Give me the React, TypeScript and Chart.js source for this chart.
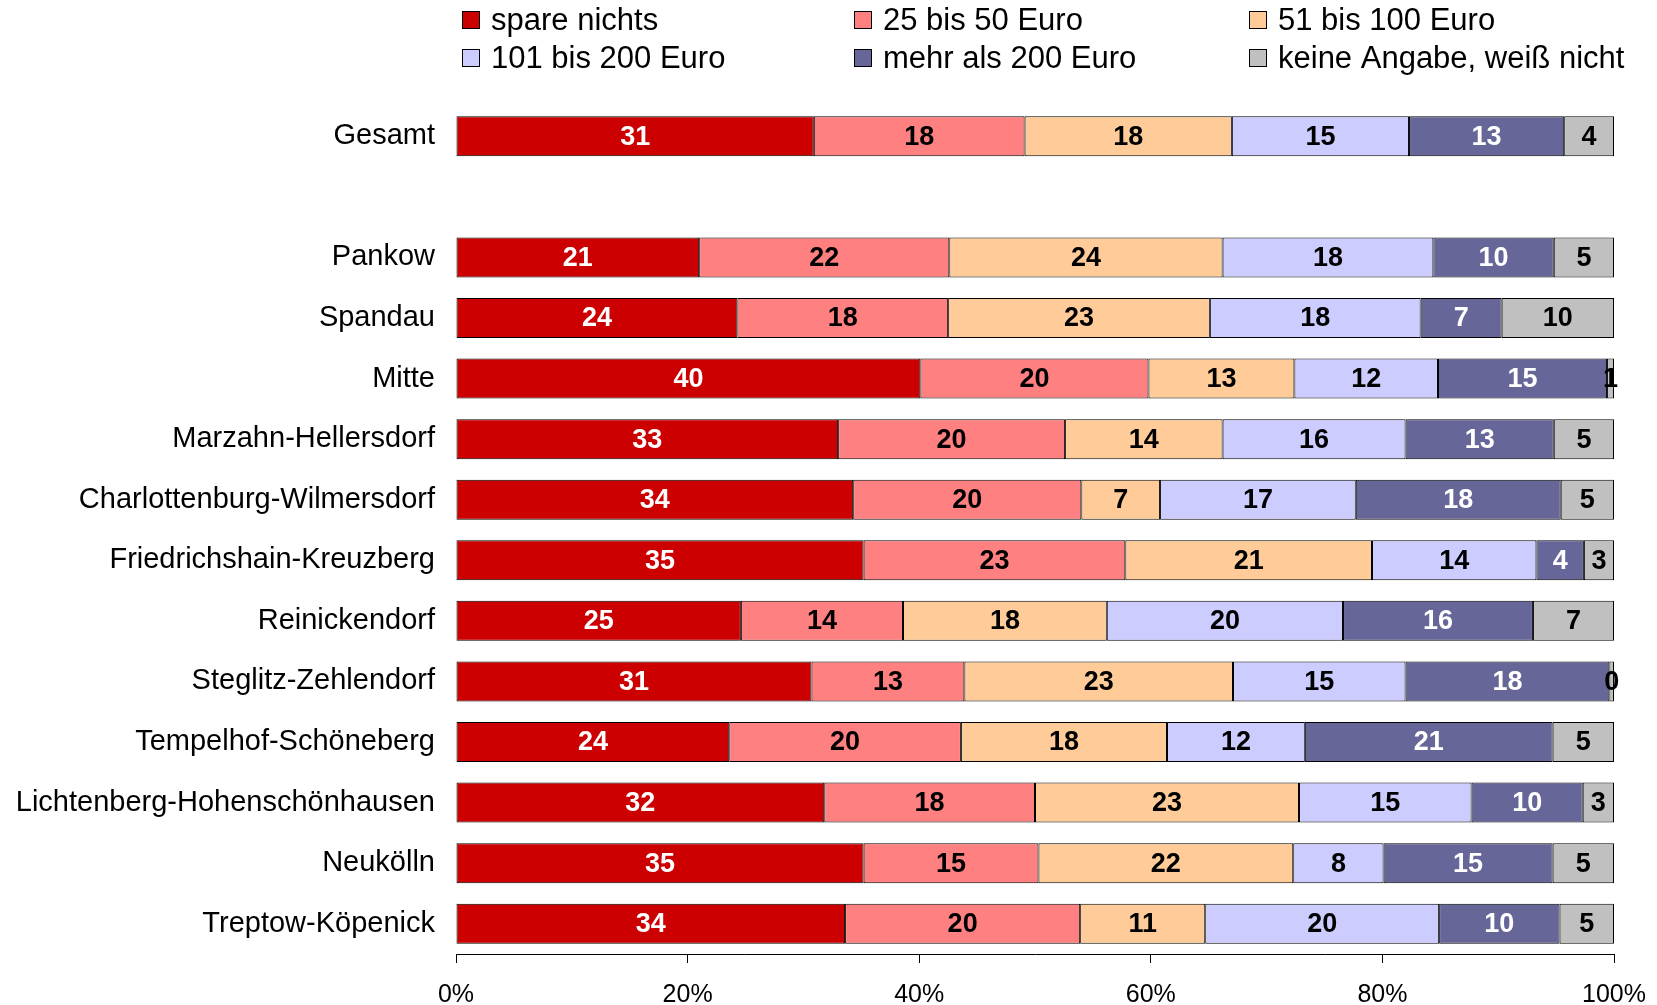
import React, { useEffect, useRef } from "react";
import { Chart, registerables } from "chart.js";

Chart.register(...registerables);

const categories = [
  "Gesamt",
  "",
  "Pankow",
  "Spandau",
  "Mitte",
  "Marzahn-Hellersdorf",
  "Charlottenburg-Wilmersdorf",
  "Friedrichshain-Kreuzberg",
  "Reinickendorf",
  "Steglitz-Zehlendorf",
  "Tempelhof-Schöneberg",
  "Lichtenberg-Hohenschönhausen",
  "Neukölln",
  "Treptow-Köpenick",
];

const seriesNames = [
  "spare nichts",
  "25 bis 50 Euro",
  "51 bis 100 Euro",
  "101 bis 200 Euro",
  "mehr als 200 Euro",
  "keine Angabe, weiß nicht",
];

const spareNichts = [30.9, null, 21.0, 24.3, 40.1, 33.0, 34.3, 35.2, 24.6, 30.7, 23.6, 31.8, 35.2, 33.6];
const bis50 = [18.2, null, 21.6, 18.2, 19.7, 19.6, 19.7, 22.6, 14.0, 13.2, 20.0, 18.2, 15.1, 20.3];
const bis100 = [17.9, null, 23.6, 22.6, 12.6, 13.6, 6.8, 21.3, 17.6, 23.2, 17.8, 22.8, 22.0, 10.8];
const bis200 = [15.3, null, 18.2, 18.2, 12.4, 15.8, 16.9, 14.2, 20.4, 14.9, 11.9, 14.9, 7.8, 20.2];
const mehr200 = [13.4, null, 10.4, 7.0, 14.6, 12.8, 17.7, 4.1, 16.4, 17.6, 21.4, 9.6, 14.6, 10.4];
const keineAngabe = [4.3, null, 5.2, 9.7, 0.6, 5.2, 4.6, 2.6, 7.0, 0.4, 5.3, 2.7, 5.3, 4.7];

const xTicks = [0, 20, 40, 60, 80, 100];

const seriesValues = [spareNichts, bis50, bis100, bis200, mehr200, keineAngabe];
const seriesColors = ["#CC0000", "#FF8080", "#FFCC99", "#CCCCFF", "#666699", "#C0C0C0"];
const labelColors = ["#FFFFFF", "#000000", "#000000", "#000000", "#FFFFFF", "#000000"];

const FONT = "'Liberation Sans', Arial, sans-serif";

const legendPlugin = {
  id: "gridLegend",
  afterDraw(chart: any) {
    const ctx = chart.ctx;
    const colX = [462, 854, 1249];
    const rowY = [20, 58];
    const box = 18;
    ctx.save();
    ctx.font = `31px ${FONT}`;
    ctx.textBaseline = "middle";
    ctx.textAlign = "left";
    chart.data.datasets.forEach((ds: any, i: number) => {
      const col = i % 3;
      const row = Math.floor(i / 3);
      const x = colX[col];
      const y = rowY[row];
      ctx.fillStyle = ds.backgroundColor;
      ctx.fillRect(x, y - box / 2, box, box);
      ctx.strokeStyle = "#000";
      ctx.lineWidth = 1;
      ctx.strokeRect(x + 0.5, y - box / 2 + 0.5, box - 1, box - 1);
      ctx.fillStyle = "#000";
      ctx.fillText(ds.label, x + 29, y + 1);
    });
    ctx.restore();
  },
};

const valueLabelPlugin = {
  id: "valueLabels",
  afterDatasetsDraw(chart: any) {
    const ctx = chart.ctx;
    ctx.save();
    ctx.font = `bold 27px ${FONT}`;
    ctx.textAlign = "center";
    ctx.textBaseline = "middle";
    chart.data.datasets.forEach((ds: any, di: number) => {
      const meta = chart.getDatasetMeta(di);
      meta.data.forEach((el: any, idx: number) => {
        const v = ds.data[idx];
        if (v === null || v === undefined) return;
        const p = el.getCenterPoint();
        ctx.fillStyle = labelColors[di];
        ctx.fillText(String(Math.round(v)), p.x, p.y + 1);
      });
    });
    ctx.restore();
  },
};

export default function App() {
  const ref = useRef<HTMLCanvasElement | null>(null);

  useEffect(() => {
    if (!ref.current) return;
    const chart = new Chart(ref.current, {
      type: "bar",
      data: {
        labels: categories,
        datasets: seriesNames.map((name, i) => ({
          label: name,
          data: seriesValues[i],
          backgroundColor: seriesColors[i],
          borderColor: "#000000",
          borderWidth: 1,
          borderSkipped: false,
          categoryPercentage: 1,
          barPercentage: 0.66,
        })),
      },
      options: {
        indexAxis: "y",
        responsive: false,
        animation: false,
        devicePixelRatio: 1,
        layout: { padding: { top: 106, right: 43, bottom: 0, left: 0 } },
        plugins: {
          legend: { display: false },
          tooltip: { enabled: false },
        },
        scales: {
          x: {
            stacked: true,
            min: 0,
            max: 100,
            afterBuildTicks: (scale: any) => {
              scale.ticks = xTicks.map((v) => ({ value: v }));
            },
            afterFit: (scale: any) => {
              scale.height = 51;
              scale.paddingLeft = 0;
              scale.paddingRight = 0;
            },
            grid: {
              display: true,
              drawOnChartArea: false,
              drawTicks: true,
              tickLength: 9,
              color: "#000000",
              lineWidth: 1,
            },
            border: { display: true, color: "#000000", width: 1 },
            ticks: {
              padding: 17,
              color: "#000000",
              font: { family: FONT, size: 25 },
              callback: (v: any) => `${v}%`,
              maxRotation: 0,
            },
          },
          y: {
            stacked: true,
            afterFit: (scale: any) => {
              scale.width = 456;
            },
            grid: { display: false },
            border: { display: false },
            ticks: {
              padding: 13,
              color: "#000000",
              font: { family: FONT, size: 29 },
              autoSkip: false,
            },
          },
        },
      },
      plugins: [legendPlugin, valueLabelPlugin],
    });
    return () => chart.destroy();
  }, []);

  return (
    <div style={{ position: "absolute", left: 0, top: 0, width: 1657, height: 1005, background: "#fff" }}>
      <canvas ref={ref} width={1657} height={1005} style={{ width: 1657, height: 1005, display: "block" }} />
    </div>
  );
}
